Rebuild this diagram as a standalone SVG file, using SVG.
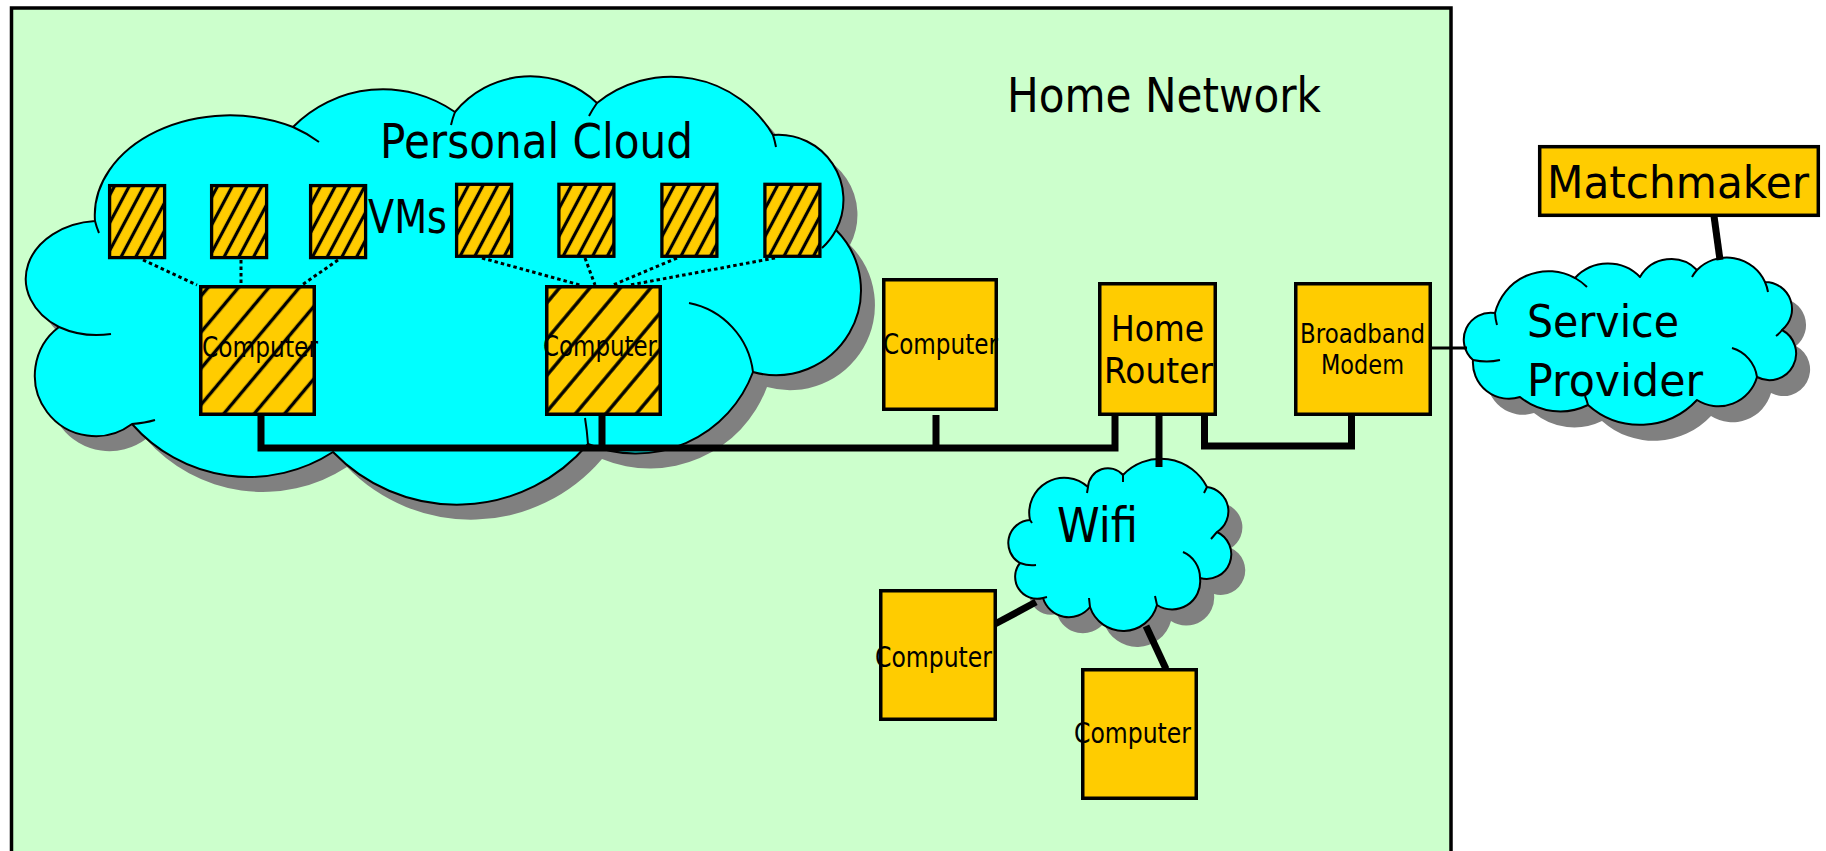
<svg xmlns="http://www.w3.org/2000/svg" xmlns:xlink="http://www.w3.org/1999/xlink" width="1826" height="851" viewBox="0 0 1826 851">
<defs>
<style>
.box{fill:#FFCC00;stroke:#000;stroke-width:3.5}
.vm{stroke:#000;stroke-width:3.3}
.cloud{fill:#00FFFF;stroke:#000;stroke-width:2;stroke-linejoin:round}
.shadow{fill:#808080;stroke:none}
.tick{fill:none;stroke:#000;stroke-width:2}
.wire{fill:none;stroke:#000;stroke-width:7;stroke-linejoin:miter;stroke-linecap:butt}
.thin{fill:none;stroke:#000;stroke-width:3}
.dot{fill:none;stroke:#000;stroke-width:3;stroke-dasharray:3.5 3}
text{font-family:"DejaVu Sans","Liberation Sans",sans-serif;fill:#000}
</style>
<pattern id="hatchVM" patternUnits="userSpaceOnUse" width="13" height="13" patternTransform="rotate(28)">
<rect width="13" height="13" fill="#FFCC00"/>
<line x1="6.5" y1="-2" x2="6.5" y2="15" stroke="#000" stroke-width="3.2"/>
</pattern>
<pattern id="hatchC1" patternUnits="userSpaceOnUse" width="23.3" height="23.3" patternTransform="rotate(40)">
<rect width="23.3" height="23.3" fill="#FFCC00"/>
<line x1="18" y1="-2" x2="18" y2="26" stroke="#000" stroke-width="3.4"/>
</pattern>
<pattern id="hatchC2" patternUnits="userSpaceOnUse" width="23.3" height="23.3" patternTransform="rotate(40)">
<rect width="23.3" height="23.3" fill="#FFCC00"/>
<line x1="7.8" y1="-2" x2="7.8" y2="26" stroke="#000" stroke-width="3.4"/>
</pattern>
<path id="pcloud" d="M95,221 A135,100 0 0 1 293,127 A126,126 0 0 1 455,112 A97,97 0 0 1 597,103 A118,118 0 0 1 773,135 A65,65 0 0 1 836,230 A85,85 0 0 1 753,372 A125,125 0 0 1 588,444 A172,172 0 0 1 333,452 A155,155 0 0 1 132,424 A60,60 0 0 1 59,327 A75,58 0 0 1 95,221 Z"/>
<path id="spcloud" d="M1495,313 A55,55 0 0 1 1575,278 A45,45 0 0 1 1640,277 A36,36 0 0 1 1697,270 A42,42 0 0 1 1765,282 A27,27 0 0 1 1782,330 A20,20 0 0 1 1757,377 A40,40 0 0 1 1697,400 A78,78 0 0 1 1588,405 A63,63 0 0 1 1520,397 A36,36 0 0 1 1473,360 A27,27 0 0 1 1495,313 Z"/>
<path id="wcloud" d="M1030,520 A35,35 0 0 1 1088,487 A20,20 0 0 1 1123,475 A52,52 0 0 1 1207,487 A24.5,24.5 0 0 1 1217,532 A24.6,24.6 0 0 1 1200,578 A28,28 0 0 1 1157,605 A35,35 0 0 1 1090,607 A27,27 0 0 1 1043,598 A22,22 0 0 1 1020,563 A23,23 0 0 1 1030,520 Z"/>
</defs>

<rect width="1826" height="851" fill="#FFFFFF"/>

<g id="home-network">
<rect x="11.5" y="8" width="1439.5" height="900" fill="#CCFFCC" stroke="#000" stroke-width="3.5"/>
<text x="1007" y="112" font-size="48" textLength="314" lengthAdjust="spacingAndGlyphs">Home Network</text>
</g>

<g id="personal-cloud">
<use xlink:href="#pcloud" class="shadow" transform="translate(14,15)"/>
<use xlink:href="#pcloud" class="cloud"/>
<path class="tick" d="M59,327 A75,58 0 0 0 111,334 M293,127 A135,100 0 0 1 319,142 M455,112 A97,97 0 0 0 451,125 M597,103 A118,118 0 0 0 589,116 M773,135 A118,118 0 0 1 776,147 M836,230 A65,65 0 0 1 822,248 M689,303 A80,80 0 0 1 753,372 M588,444 Q587,430 585,418 M132,424 Q145,423 155,420 M95,221 A135,100 0 0 0 99,233"/>
<text x="380" y="158" font-size="48" textLength="313" lengthAdjust="spacingAndGlyphs">Personal Cloud</text>
<text x="368" y="233" font-size="46" textLength="79" lengthAdjust="spacingAndGlyphs">VMs</text>
</g>

<g id="wifi">
<use xlink:href="#wcloud" class="shadow" transform="translate(14,16)"/>
<use xlink:href="#wcloud" class="cloud"/>
<path class="tick" d="M1020,563 Q1028,566 1036,565 M1183,552 A28,28 0 0 1 1200,578 M1030,520 l2,3 M1088,487 l-1,6 M1123,475 l0,7 M1207,487 l-3,6 M1217,532 l-6,7 M1157,605 l-2,-9 M1090,607 l-1,-9 M1043,598 l4,-1"/>
<text x="1057" y="542" font-size="48" textLength="81" lengthAdjust="spacingAndGlyphs">Wifi</text>
</g>

<g id="service-provider">
<use xlink:href="#spcloud" class="shadow" transform="translate(14,16)"/>
<use xlink:href="#spcloud" class="cloud"/>
<path class="tick" d="M1495,313 A55,55 0 0 0 1497,325 M1473,360 Q1487,363 1500,360 M1575,278 A55,55 0 0 1 1587,287 M1697,270 A42,42 0 0 0 1692,277 M1765,282 A42,42 0 0 1 1768,292 M1782,330 A27,27 0 0 1 1776,336 M1732,348 A35,35 0 0 1 1757,377 M1588,405 A63,63 0 0 0 1585,396"/>
<text x="1527" y="337" font-size="44" textLength="152" lengthAdjust="spacingAndGlyphs">Service</text>
<text x="1527" y="396" font-size="44" textLength="176" lengthAdjust="spacingAndGlyphs">Provider</text>
</g>

<g id="connectors">
<path class="dot" d="M143,260 L197,285 M241,260 L241,284 M338,260 L302,285 M482,258 L580,285 M585,258 L595,285 M677,258 L613,285 M775,258 L630,285"/>
<path class="wire" d="M261,414 V448 H1115 V414 M602,414 V448 M936,415 V448"/>
<path class="wire" d="M1204.5,414 V446 H1351.5 V414"/>
<path class="wire" d="M1159,414 V467"/>
<path class="wire" d="M995,624 L1036,602"/>
<path class="wire" d="M1166,669 L1146,626"/>
<path class="thin" d="M1432,348 H1467"/>
<path class="wire" d="M1714,216 L1720,260"/>
</g>

<g id="vms">
<rect class="vm" x="109.6" y="185.6" width="55" height="72" fill="url(#hatchVM)"/>
<rect class="vm" x="211.6" y="185.6" width="55" height="72" fill="url(#hatchVM)"/>
<rect class="vm" x="310.6" y="185.6" width="55" height="72" fill="url(#hatchVM)"/>
<rect class="vm" x="456.6" y="184.3" width="55" height="72" fill="url(#hatchVM)"/>
<rect class="vm" x="558.9" y="184.3" width="55" height="72" fill="url(#hatchVM)"/>
<rect class="vm" x="661.9" y="184.3" width="55" height="72" fill="url(#hatchVM)"/>
<rect class="vm" x="764.9" y="184.3" width="55" height="72" fill="url(#hatchVM)"/>
</g>

<g id="computer-1">
<rect class="box" x="200.75" y="286.75" width="113.5" height="127.5" style="fill:url(#hatchC1)"/>
<text x="202" y="357" font-size="28" textLength="116" lengthAdjust="spacingAndGlyphs">Computer</text>
</g>
<g id="computer-2">
<rect class="box" x="546.75" y="286.75" width="113.5" height="127.5" style="fill:url(#hatchC2)"/>
<text x="543" y="356" font-size="28" textLength="114" lengthAdjust="spacingAndGlyphs">Computer</text>
</g>
<g id="computer-3">
<rect class="box" x="883.75" y="279.75" width="112.5" height="129.5"/>
<text x="883" y="354" font-size="28" textLength="115" lengthAdjust="spacingAndGlyphs">Computer</text>
</g>
<g id="home-router">
<rect class="box" x="1099.75" y="283.75" width="115.5" height="130.5"/>
<text x="1111" y="341" font-size="36" textLength="93" lengthAdjust="spacingAndGlyphs">Home</text>
<text x="1104" y="383" font-size="36" textLength="109" lengthAdjust="spacingAndGlyphs">Router</text>
</g>
<g id="broadband-modem">
<rect class="box" x="1295.75" y="283.75" width="134.5" height="130.5"/>
<text x="1300" y="343" font-size="26" textLength="125" lengthAdjust="spacingAndGlyphs">Broadband</text>
<text x="1321" y="374" font-size="26" textLength="83" lengthAdjust="spacingAndGlyphs">Modem</text>
</g>
<g id="computer-4">
<rect class="box" x="880.75" y="590.75" width="114.5" height="128.5"/>
<text x="875" y="667" font-size="28" textLength="117" lengthAdjust="spacingAndGlyphs">Computer</text>
</g>
<g id="computer-5">
<rect class="box" x="1082.75" y="669.75" width="113.5" height="128.5"/>
<text x="1074" y="743" font-size="28" textLength="117" lengthAdjust="spacingAndGlyphs">Computer</text>
</g>
<g id="matchmaker">
<rect class="box" x="1539.7" y="146.7" width="278.6" height="68.6"/>
<text x="1547" y="198" font-size="45" textLength="262" lengthAdjust="spacingAndGlyphs">Matchmaker</text>
</g>
</svg>
